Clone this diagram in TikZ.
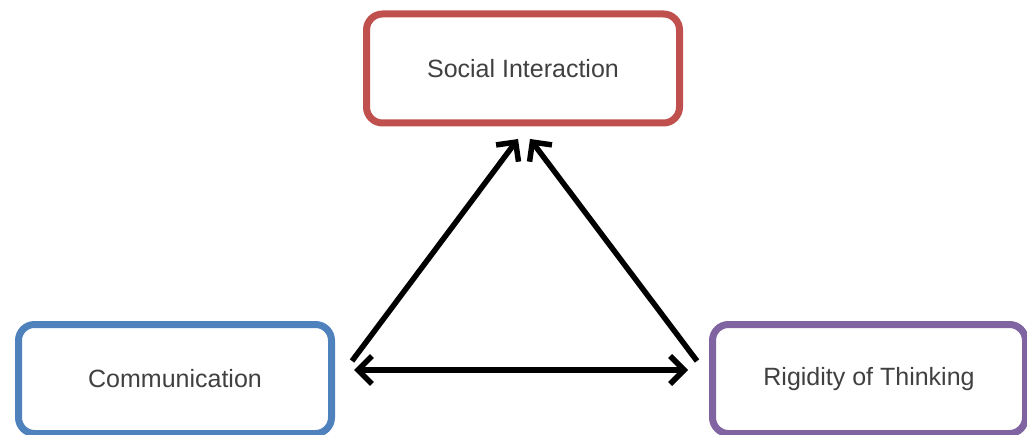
\documentclass[tikz,border=0pt]{standalone}
\usepackage{fontspec}
\setmainfont{Liberation Sans}
\usetikzlibrary{arrows.meta,shadows}
\definecolor{boxred}{HTML}{C0504D}
\definecolor{boxblue}{HTML}{4F81BD}
\definecolor{boxpurple}{HTML}{8064A2}
\definecolor{txtgray}{HTML}{404040}
\tikzset{
  topicbox/.style={draw, line width=7pt, rounded corners=16pt, fill=white,
    minimum width=313pt, minimum height=109pt, inner sep=0pt, outer sep=0pt,
    text=txtgray, font=\fontsize{25}{30}\selectfont,
    drop shadow={shadow xshift=1.5pt, shadow yshift=-3pt, opacity=0.3}},
  tip/.style={Straight Barb[length=14pt,width=28pt,line width=5.5pt]},
  link/.style={line width=5.5pt, {Straight Barb[length=14pt,width=28pt,line width=5.5pt]}-{Straight Barb[length=14pt,width=28pt,line width=5.5pt]}},
  onelink/.style={line width=5.5pt, -{Straight Barb[length=14pt,width=28pt,line width=5.5pt]}}
}
\begin{document}
\begin{tikzpicture}[x=1pt,y=-1pt]
\useasboundingbox (0,0) rectangle (1027,435);
\node[topicbox, draw=boxred] (soc) at (523,68.5) {Social Interaction};
\node[topicbox, draw=boxblue] (com) at (175,379) {Communication};
\node[topicbox, draw=boxpurple] (rig) at (869,379) {Rigidity of Thinking};
\coordinate (a1) at (352,361);
\coordinate (a2) at (518,139);
\coordinate (b1) at (697,361);
\coordinate (b2) at (530,139);
\coordinate (h1) at (354,370);
\coordinate (h2) at (688,370);
\draw[onelink] (a1) -- (a2);
\draw[onelink] (b1) -- (b2);
\draw[link] (h1) -- (h2);
\end{tikzpicture}
\end{document}
